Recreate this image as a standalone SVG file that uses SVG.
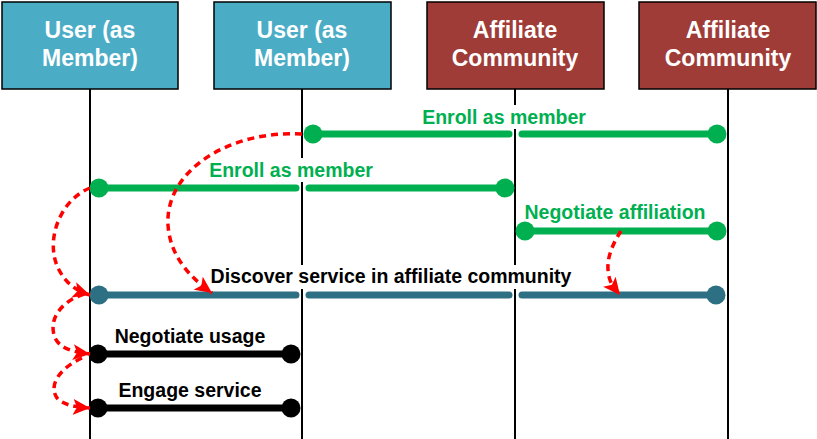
<svg xmlns="http://www.w3.org/2000/svg" width="817" height="439" viewBox="0 0 817 439">
<style>
.box{stroke:#000;stroke-width:1.5}
.user{fill:#4BACC6}
.aff{fill:#A03C37}
.bt{font-family:"Liberation Sans",Arial,sans-serif;font-weight:bold;font-size:23px;fill:#fff;text-anchor:middle}
.life{stroke:#000;stroke-width:2;fill:none}
.lbl{font-family:"Liberation Sans",Arial,sans-serif;font-weight:bold;font-size:19.5px;text-anchor:middle}
.g{stroke:#00B050;stroke-width:7;stroke-linecap:round;fill:none}
.t{stroke:#2E7083;stroke-width:7;stroke-linecap:round;fill:none}
.k{stroke:#000;stroke-width:7;stroke-linecap:round;fill:none}
.flow{stroke:#FF0000;stroke-width:3.5;stroke-dasharray:7 5;fill:none;marker-end:url(#ah)}
.bg{fill:#fff}
</style>
<defs>
<marker id="ah" markerUnits="userSpaceOnUse" markerWidth="18" markerHeight="16" refX="17" refY="8" orient="auto">
<path d="M0,0 L17,8 L0,16 L4,8 z" fill="#FF0000"/>
</marker>
</defs>
<rect width="817" height="439" fill="#fff"/>
<g id="lifelines">
<line class="life" x1="90" y1="89" x2="90" y2="439"/>
<line class="life" x1="302" y1="89" x2="302" y2="439"/>
<line class="life" x1="515" y1="89" x2="515" y2="439"/>
<line class="life" x1="728" y1="89" x2="728" y2="439"/>
</g>
<g id="node-user1">
<rect class="box user" x="2" y="2" width="176" height="87"/>
<text class="bt" x="90" y="38">User (as</text>
<text class="bt" x="90" y="66">Member)</text>
</g>
<g id="node-user2">
<rect class="box user" x="214" y="2" width="177" height="87"/>
<text class="bt" x="302" y="38">User (as</text>
<text class="bt" x="302" y="66">Member)</text>
</g>
<g id="node-aff1">
<rect class="box aff" x="427" y="2" width="177" height="87"/>
<text class="bt" x="515" y="38">Affiliate</text>
<text class="bt" x="515" y="66">Community</text>
</g>
<g id="node-aff2">
<rect class="box aff" x="639" y="2" width="177" height="87"/>
<text class="bt" x="728" y="38">Affiliate</text>
<text class="bt" x="728" y="66">Community</text>
</g>
<g id="connectors">
<rect class="bg" x="419" y="105" width="170" height="24"/>
<rect class="bg" x="206" y="158" width="170" height="24"/>
<rect class="bg" x="208" y="265" width="368" height="24"/>
<g id="msg-enroll-1">
<path class="g" d="M313,134 H509 M522,134 H717"/>
<circle cx="313" cy="134" r="9.5" fill="#00B050"/>
<circle cx="717" cy="134" r="9.5" fill="#00B050"/>
<text class="lbl" x="504" y="124" fill="#00B050">Enroll as member</text>
</g>
<g id="msg-enroll-2">
<path class="g" d="M99,188 H296 M309,188 H505"/>
<circle cx="99" cy="188" r="9.5" fill="#00B050"/>
<circle cx="505" cy="188" r="9.5" fill="#00B050"/>
<text class="lbl" x="291" y="177" fill="#00B050">Enroll as member</text>
</g>
<g id="msg-negotiate-affiliation">
<path class="g" d="M525,231 H717"/>
<circle cx="525" cy="231" r="9.5" fill="#00B050"/>
<circle cx="717" cy="231" r="9.5" fill="#00B050"/>
<text class="lbl" x="615" y="219" fill="#00B050">Negotiate affiliation</text>
</g>
<g id="msg-discover">
<path class="t" d="M99,295 H296 M309,295 H509 M522,295 H716"/>
<circle cx="99" cy="295" r="9.5" fill="#2E7083"/>
<circle cx="716" cy="295" r="9.5" fill="#2E7083"/>
<text class="lbl" x="391" y="283" fill="#000">Discover service in affiliate community</text>
</g>
<g id="msg-negotiate-usage">
<path class="k" d="M98,354 H291"/>
<circle cx="98" cy="354" r="9.5" fill="#000"/>
<circle cx="291" cy="354" r="9.5" fill="#000"/>
<text class="lbl" x="190" y="343" fill="#000">Negotiate usage</text>
</g>
<g id="msg-engage">
<path class="k" d="M98,408 H291"/>
<circle cx="98" cy="408" r="9.5" fill="#000"/>
<circle cx="291" cy="408" r="9.5" fill="#000"/>
<text class="lbl" x="190" y="397" fill="#000">Engage service</text>
</g>
<g id="flows">
<path class="flow" d="M302,134 C230,130 165,170 168,225 C170,255 188,276 212,293"/>
<path class="flow" d="M90,188 C60,200 45,240 58,268 C65,282 74,290 90,295"/>
<path class="flow" d="M84,294 C60,302 48,320 55,338 C60,348 72,352 90,354"/>
<path class="flow" d="M82,358 C60,368 48,385 57,398 C63,405 75,407 90,408"/>
<path class="flow" d="M621,231 C612,245 604,262 610,280 C612,286 616,290 620,295"/>
</g>
</g>
</svg>
